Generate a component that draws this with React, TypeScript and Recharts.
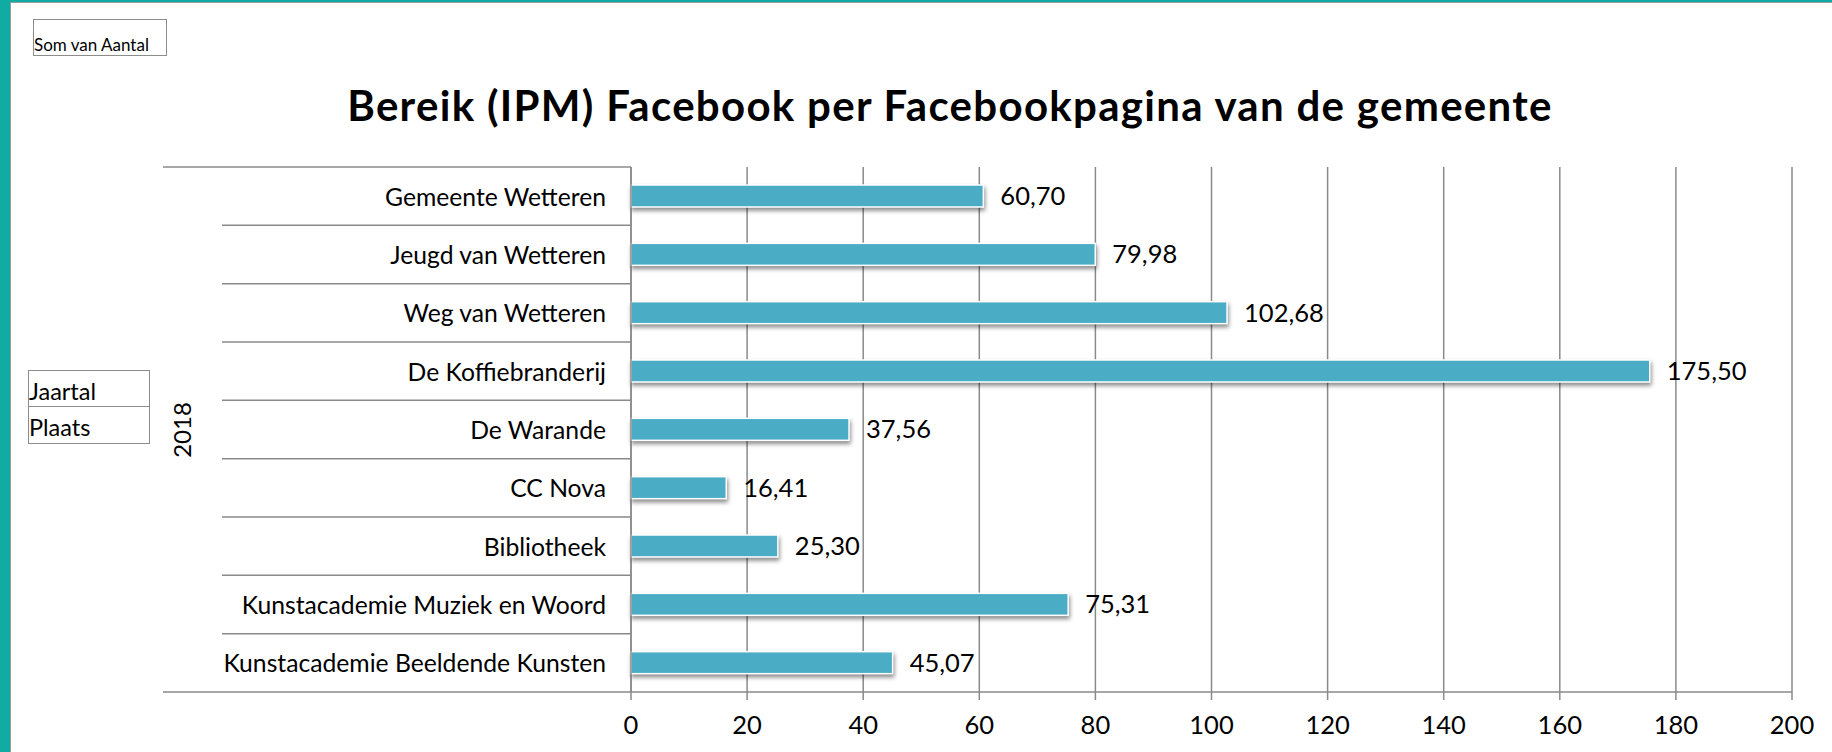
import { BarChart, Bar, XAxis, YAxis, CartesianGrid, LabelList } from 'recharts';

// Facebook pages of the municipality (2018)
const places = [
    'Gemeente Wetteren',
    'Jeugd van Wetteren',
    'Weg van Wetteren',
    'De Koffiebranderij',
    'De Warande',
    'CC Nova',
    'Bibliotheek',
    'Kunstacademie Muziek en Woord',
    'Kunstacademie Beeldende Kunsten',
];

// Bereik (IPM) per page
const reach = [60.7, 79.98, 102.68, 175.5, 37.56, 16.41, 25.3, 75.31, 45.07];

const xTicks = [0, 20, 40, 60, 80, 100, 120, 140, 160, 180, 200];

const data = places.map((name, i) => ({ name, value: reach[i] }));

const W = 1832;
const H = 752;
const PLOT_LEFT = 631;
const PLOT_TOP = 167;
const PLOT_RIGHT = 1792;
const PLOT_BOTTOM = 692;
const Y_AXIS_W = 470;
const X_AXIS_H = 50;
const ROW_H = (PLOT_BOTTOM - PLOT_TOP) / places.length;

const GRID = '#8a8a8a';
const BAR = '#4bacc6';
const TEAL = '#10aba2';
const FONT = 'Lato, "Open Sans", sans-serif';

const fmt = (v: number) => v.toFixed(2).replace('.', ',');

// category label plus the row separator lines of the pivot layout
const PlaceTick = ({ y, payload, index }: any) => {
    const top = y - ROW_H / 2;
    const last = index === places.length - 1;
    return (
        <g>
            <line x1={index === 0 ? 163 : 222} x2={PLOT_LEFT} y1={top} y2={top} stroke={GRID} strokeWidth={1.5} />
            {last && (
                <line x1={163} x2={PLOT_LEFT} y1={top + ROW_H} y2={top + ROW_H} stroke={GRID} strokeWidth={1.5} />
            )}
            <text
                x={PLOT_LEFT - 25}
                y={y}
                textAnchor="end"
                dominantBaseline="central"
                fontFamily={FONT}
                fontSize={24.7}
                fill="#000"
            >
                {payload.value}
            </text>
        </g>
    );
};

const ShadowBar = ({ x, y, width, height }: any) => (
    <rect
        x={x}
        y={y}
        width={width}
        height={height}
        fill={BAR}
        stroke="#ffffff"
        strokeWidth={1.5}
        style={{ filter: 'drop-shadow(1px 3px 2px rgba(0,0,0,0.45))' }}
    />
);

const boxStyle = {
    position: 'absolute' as const,
    border: '1.5px solid #8c8c8c',
    boxSizing: 'border-box' as const,
    display: 'flex',
    alignItems: 'flex-end',
    fontFamily: FONT,
    color: '#000',
    lineHeight: 1,
    background: '#fff',
};

export default function App() {
    return (
        <div style={{ position: 'absolute', left: 0, top: 0, width: W, height: H, background: TEAL, overflow: 'hidden' }}>
            <div
                style={{
                    position: 'absolute',
                    left: 10,
                    top: 2,
                    right: 0,
                    bottom: 0,
                    background: '#fff',
                    borderLeft: '1.5px solid #9a9a9a',
                    borderTop: '1.5px solid #9a9a9a',
                }}
            />

            <div style={{ position: 'absolute', left: 0, top: 0 }}>
                <BarChart
                    width={W}
                    height={H}
                    data={data}
                    layout="vertical"
                    margin={{ top: PLOT_TOP, right: W - PLOT_RIGHT, bottom: H - PLOT_BOTTOM - X_AXIS_H, left: PLOT_LEFT - Y_AXIS_W }}
                >
                    <CartesianGrid horizontal={false} stroke={GRID} strokeWidth={1.5} />
                    <XAxis
                        type="number"
                        domain={[0, 200]}
                        ticks={xTicks}
                        height={X_AXIS_H}
                        tickSize={8}
                        tickMargin={16}
                        stroke={GRID}
                        strokeWidth={1.5}
                        tick={{ fill: '#000', fontSize: 25.5, fontFamily: FONT }}
                    />
                    <YAxis
                        type="category"
                        dataKey="name"
                        width={Y_AXIS_W}
                        interval={0}
                        tickLine={false}
                        stroke={GRID}
                        strokeWidth={1.5}
                        tick={<PlaceTick />}
                    />
                    <Bar dataKey="value" barSize={22} shape={<ShadowBar />} isAnimationActive={false}>
                        <LabelList
                            dataKey="value"
                            position="right"
                            offset={17}
                            formatter={(v: any) => fmt(Number(v))}
                            style={{ fill: '#000', fontSize: 25.5, fontFamily: FONT }}
                        />
                    </Bar>
                </BarChart>
            </div>

            <div
                style={{
                    position: 'absolute',
                    left: 950,
                    top: 84,
                    transform: 'translateX(-50%)',
                    whiteSpace: 'nowrap',
                    fontFamily: FONT,
                    fontWeight: 700,
                    fontSize: 42,
                    letterSpacing: 1.3,
                    lineHeight: 1,
                    color: '#000',
                }}
            >
                Bereik (IPM) Facebook per Facebookpagina van de gemeente
            </div>

            <div style={{ ...boxStyle, left: 33, top: 19, width: 134, height: 37, fontSize: 17, paddingBottom: 2 }}>
                Som van Aantal
            </div>
            <div style={{ ...boxStyle, left: 28, top: 370, width: 122, height: 38, fontSize: 23.5, paddingBottom: 4 }}>
                Jaartal
            </div>
            <div style={{ ...boxStyle, left: 28, top: 406, width: 122, height: 38, fontSize: 23.5, paddingBottom: 4 }}>
                Plaats
            </div>

            <div
                style={{
                    position: 'absolute',
                    left: 182,
                    top: 430,
                    transform: 'translate(-50%, -50%) rotate(-90deg)',
                    fontFamily: FONT,
                    fontSize: 24,
                    lineHeight: 1,
                    color: '#000',
                }}
            >
                2018
            </div>
        </div>
    );
}
